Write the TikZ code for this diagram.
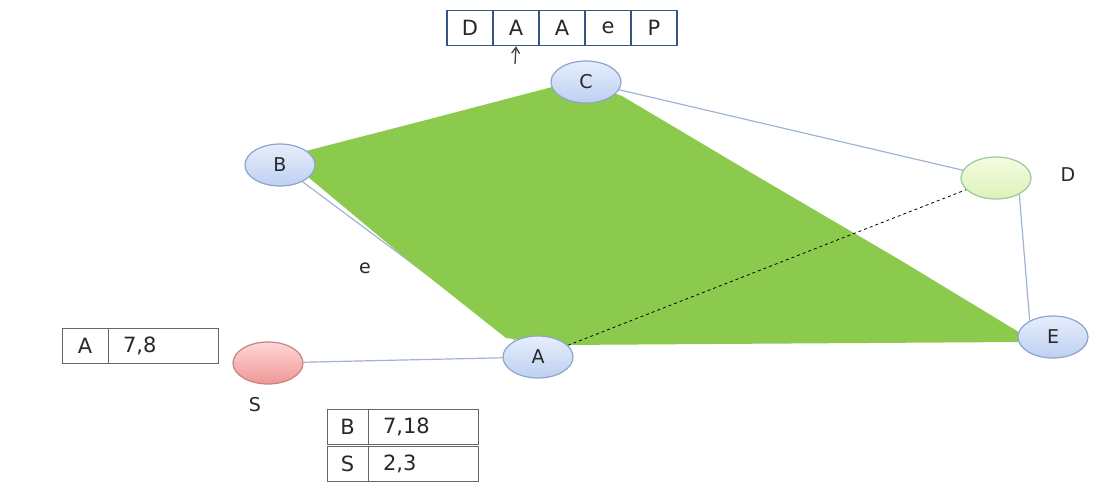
\documentclass[tikz,border=0pt]{standalone}
\usepackage{fontspec}
\setmainfont{DejaVu Sans}
\usetikzlibrary{shapes.geometric,arrows.meta,backgrounds}
\definecolor{edgeblue}{RGB}{160,180,210}
\definecolor{ringblue}{RGB}{140,165,205}
\definecolor{patchgreen}{RGB}{140,202,78}
\definecolor{cellblue}{RGB}{55,85,130}
\definecolor{inkgray}{RGB}{40,40,40}
\tikzset{
  vertex/.style={ellipse, draw=ringblue, line width=1.2pt, minimum width=70pt, minimum height=42pt,
    top color={rgb,255:red,230;green,238;blue,252}, bottom color={rgb,255:red,190;green,208;blue,240},
    text=inkgray, font=\fontsize{19}{21}\selectfont},
  link/.style={edgeblue, line width=1.2pt},
  lab/.style={text=inkgray, font=\fontsize{19}{21}\selectfont},
  arr/.style={draw=cellblue, line width=1.5pt, minimum width=46pt, minimum height=35pt,
    inner sep=0pt, text=inkgray, font=\fontsize{21}{23}\selectfont},
  tab/.style={draw=gray!80!black, thick, minimum height=35pt, inner sep=0pt,
    text=inkgray, font=\fontsize{21}{23}\selectfont},
  val/.style={tab, minimum width=110pt, text width=80pt}
}
\begin{document}
\begin{tikzpicture}[x=1pt, y=-1pt]
    \useasboundingbox (0,0) rectangle (1105,482);

    % vertices
    \node[vertex] (c) at (586,82) {C};
    \node[vertex] (b) at (280,165) {B};
    \node[vertex] (e) at (1053,337) {E};
    \node[vertex] (a) at (538,357) {A};
    \node[vertex, draw=green!30!gray!60, top color={rgb,255:red,245;green,252;blue,225},
          bottom color={rgb,255:red,220;green,242;blue,185}] (d) at (996,178) {};
    \node[vertex, draw=red!40!gray!70, top color={rgb,255:red,255;green,215;blue,215},
          bottom color={rgb,255:red,240;green,150;blue,150}] (s) at (268,363) {};

    \begin{scope}[on background layer]
    \draw[link] (b) -- (c) -- (d);
    \draw[link] (d.-35) -- (e.145);
    \draw[link] (b) -- (a) -- (s);

    % covered region
    \fill[patchgreen] (302,152) -- (430,119) -- (556,86) -- (600,88) -- (622,96) -- (760,178)
        -- (900,260) -- (1022,334) -- (1020,342) -- (560,345) -- (506,338) -- (410,262) -- (302,172) -- cycle;

    \draw[dashed, thick] (a) -- (d);
    \end{scope}

    \node[lab] (dlab) at (1068,175) {D};
    \node[lab] (slab) at (255,405) {S};
    \node[lab] (elab) at (365,268) {e};

    % top array
    \foreach \t [count=\i] in {D,A,A,e,P}
        \node[arr] (cell\i) at (470+46*\i-46,28) {\t};
    \coordinate (tail) at (515,64);
    \draw[-{Straight Barb[length=6pt,width=8pt]}, line width=1.3pt, black!75] (tail) -- (cell2.south);

    % tables
    \node[tab, minimum width=46pt] (ta1) at (85,346) {A};
    \node[val] (ta2) at (163,346) {7,8};
    \node[tab, minimum width=41pt] (tb1) at (347.5,427) {B};
    \node[val] (tb2) at (423,427) {7,18};
    \node[tab, minimum width=41pt] (ts1) at (347.5,464) {S};
    \node[val] (ts2) at (423,464) {2,3};

\end{tikzpicture}
\end{document}
